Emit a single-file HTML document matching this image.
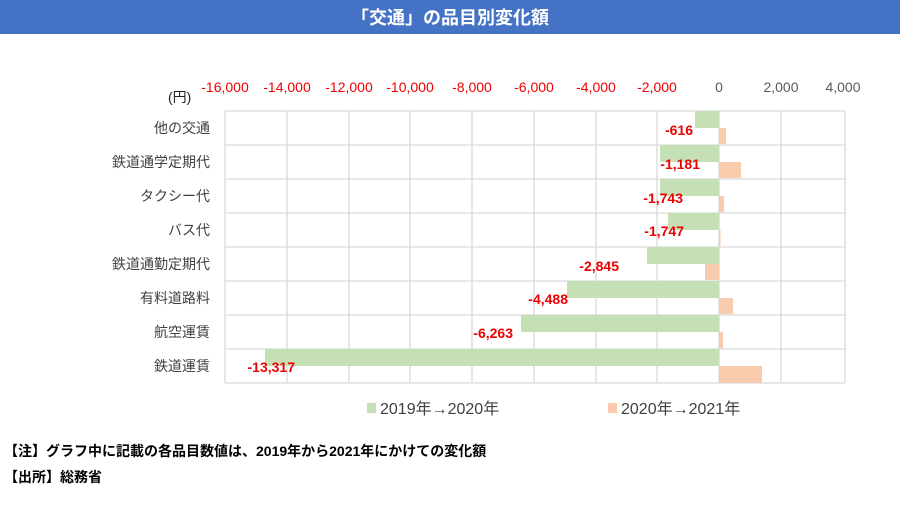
<!DOCTYPE html>
<html><head><meta charset="utf-8"><style>
body{margin:0;width:900px;height:500px;background:#fff;overflow:hidden;font-family:"Liberation Sans","Noto Sans CJK JP",sans-serif}
</style></head><body>
<svg width="900" height="500" xmlns="http://www.w3.org/2000/svg" font-family="Liberation Sans, Noto Sans CJK JP, sans-serif">
<rect x="0" y="0" width="900" height="34" fill="#4472C4"/>
<text x="450" y="24" text-anchor="middle" fill="#fff" font-size="18" font-weight="bold">「交通」の品目別変化額</text>
<g stroke="#d9d9d9" stroke-width="1.3">
<line x1="225" y1="111" x2="225" y2="383"/><line x1="287" y1="111" x2="287" y2="383"/><line x1="349" y1="111" x2="349" y2="383"/><line x1="410" y1="111" x2="410" y2="383"/><line x1="472" y1="111" x2="472" y2="383"/><line x1="534" y1="111" x2="534" y2="383"/><line x1="596" y1="111" x2="596" y2="383"/><line x1="657" y1="111" x2="657" y2="383"/><line x1="719" y1="111" x2="719" y2="383"/><line x1="781" y1="111" x2="781" y2="383"/><line x1="845" y1="111" x2="845" y2="383"/>
<line x1="225" y1="111" x2="845" y2="111"/><line x1="225" y1="145" x2="845" y2="145"/><line x1="225" y1="179" x2="845" y2="179"/><line x1="225" y1="213" x2="845" y2="213"/><line x1="225" y1="247" x2="845" y2="247"/><line x1="225" y1="281" x2="845" y2="281"/><line x1="225" y1="315" x2="845" y2="315"/><line x1="225" y1="349" x2="845" y2="349"/><line x1="225" y1="383" x2="845" y2="383"/>
</g>
<g fill="#C5E0B4">
<rect x="695" y="111" width="24" height="17"/><rect x="660" y="145" width="59" height="17"/><rect x="660" y="179" width="59" height="17"/><rect x="668" y="213" width="51" height="17"/><rect x="647" y="247" width="72" height="17"/><rect x="567" y="281" width="152" height="17"/><rect x="521" y="315" width="198" height="17"/><rect x="265" y="349" width="454" height="17"/>
</g>
<g fill="#F8CBAD">
<rect x="719" y="128" width="7" height="16"/><rect x="719" y="162" width="22" height="16"/><rect x="719" y="196" width="5" height="16"/><rect x="719" y="230" width="1.5" height="16"/><rect x="705" y="264" width="14" height="16"/><rect x="719" y="298" width="14" height="16"/><rect x="719" y="332" width="4" height="16"/><rect x="719" y="366" width="43" height="17"/>
</g>
<g fill="#E00" font-size="14" font-weight="bold" text-anchor="end">
<text x="693" y="135">-616</text><text x="700" y="169">-1,181</text><text x="683" y="203">-1,743</text><text x="684" y="236">-1,747</text><text x="619" y="271">-2,845</text><text x="568" y="304">-4,488</text><text x="513" y="338">-6,263</text><text x="295" y="372">-13,317</text>
</g>
<g fill="#E00" font-size="14" text-anchor="middle">
<text x="225" y="92">-16,000</text><text x="287" y="92">-14,000</text><text x="349" y="92">-12,000</text><text x="410" y="92">-10,000</text><text x="472" y="92">-8,000</text><text x="534" y="92">-6,000</text><text x="596" y="92">-4,000</text><text x="657" y="92">-2,000</text>
</g>
<g fill="#595959" font-size="14" text-anchor="middle">
<text x="719" y="92">0</text><text x="781" y="92">2,000</text><text x="843" y="92">4,000</text>
</g>
<text x="168" y="102" font-size="14" fill="#222">(円)</text>
<g fill="#404040" font-size="14" text-anchor="end">
<text x="210" y="133">他の交通</text><text x="210" y="167">鉄道通学定期代</text><text x="210" y="201">タクシー代</text><text x="210" y="235">バス代</text><text x="210" y="269">鉄道通勤定期代</text><text x="210" y="303">有料道路料</text><text x="210" y="337">航空運賃</text><text x="210" y="371">鉄道運賃</text>
</g>
<rect x="367" y="403" width="9" height="10" fill="#C5E0B4"/>
<text x="380" y="414" font-size="16" fill="#404040">2019年→2020年</text>
<rect x="608" y="403" width="9" height="10" fill="#F8CBAD"/>
<text x="621" y="414" font-size="16" fill="#404040">2020年→2021年</text>
<text x="4" y="456" font-size="14" font-weight="bold" fill="#000">【注】グラフ中に記載の各品目数値は、2019年から2021年にかけての変化額</text>
<text x="4" y="482" font-size="14" font-weight="bold" fill="#000">【出所】総務省</text>
</svg>
</body></html>
